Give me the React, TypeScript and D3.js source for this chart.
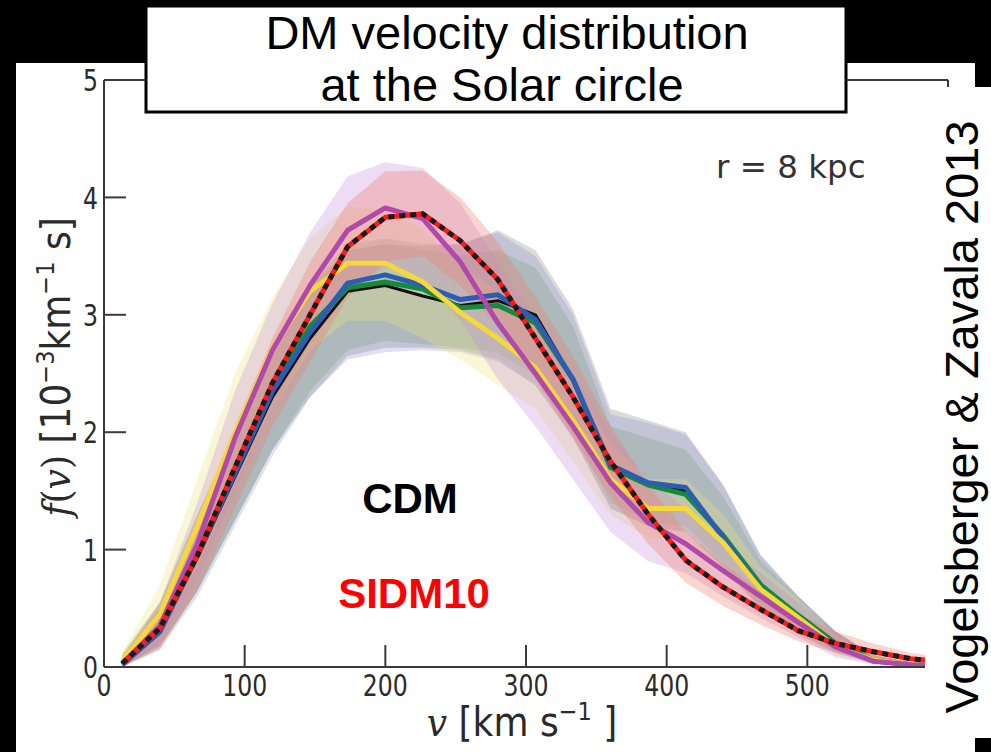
import React from "react";
import * as d3 from "d3";

// velocity bin centres [km/s]
const vBins = [13, 39.7, 66.4, 93.1, 119.8, 146.5, 173.2, 199.9, 226.6, 253.3, 280, 306.7, 333.4, 360.1, 386.8, 413.5, 440.2, 466.9, 493.6, 520.3, 547, 573.7, 600.4];

// f(v) lines, 10^-3 km^-1 s
const cdm = [0.02, 0.3, 0.93, 1.62, 2.3, 2.8, 3.2, 3.25, 3.16, 3.08, 3.12, 3.0, 2.45, 1.7, 1.55, 1.5, 1.12, 0.67, 0.4, 0.18, 0.05, 0.02, 0.01];
const green = [0.02, 0.31, 0.97, 1.68, 2.38, 2.9, 3.23, 3.28, 3.22, 3.06, 3.08, 2.93, 2.45, 1.7, 1.55, 1.47, 1.12, 0.7, 0.44, 0.2, 0.06, 0.02, 0.01];
const blue = [0.02, 0.3, 0.95, 1.65, 2.35, 2.85, 3.27, 3.34, 3.25, 3.13, 3.17, 2.96, 2.45, 1.72, 1.57, 1.53, 1.1, 0.66, 0.4, 0.18, 0.05, 0.02, 0.01];
const yellow = [0.05, 0.45, 1.2, 2.0, 2.72, 3.2, 3.44, 3.44, 3.28, 3.02, 2.8, 2.55, 2.1, 1.6, 1.35, 1.35, 1.06, 0.66, 0.42, 0.17, 0.06, 0.02, 0.02];
const purple = [0.03, 0.35, 1.05, 1.95, 2.7, 3.25, 3.72, 3.91, 3.82, 3.45, 2.93, 2.5, 2.05, 1.57, 1.23, 1.05, 0.82, 0.6, 0.38, 0.17, 0.05, 0.02, 0.01];
const sidm10 = [0.03, 0.33, 0.95, 1.7, 2.42, 3.0, 3.58, 3.83, 3.86, 3.63, 3.3, 2.8, 2.3, 1.75, 1.3, 0.91, 0.68, 0.49, 0.31, 0.2, 0.13, 0.07, 0.04];

// scatter bands (low / high)
const cdmLo = [0, 0.18, 0.65, 1.25, 1.85, 2.3, 2.65, 2.72, 2.72, 2.7, 2.62, 2.4, 1.95, 1.35, 1.2, 1.15, 0.85, 0.5, 0.28, 0.12, 0.03, 0.01, 0];
const cdmHi = [0.1, 0.55, 1.3, 2.0, 2.7, 3.25, 3.6, 3.65, 3.6, 3.6, 3.72, 3.55, 3.05, 2.2, 2.1, 2.0, 1.55, 0.95, 0.6, 0.3, 0.1, 0.04, 0.02];
const greenLo = [0, 0.17, 0.65, 1.25, 1.85, 2.35, 2.7, 2.78, 2.75, 2.72, 2.68, 2.48, 2.0, 1.4, 1.25, 1.2, 0.88, 0.52, 0.3, 0.13, 0.03, 0.01, 0];
const greenHi = [0.12, 0.55, 1.3, 2.0, 2.72, 3.25, 3.55, 3.6, 3.55, 3.5, 3.55, 3.4, 2.9, 2.05, 1.95, 1.85, 1.45, 0.9, 0.6, 0.3, 0.1, 0.04, 0.02];
const blueLo = [0, 0.15, 0.6, 1.2, 1.8, 2.3, 2.62, 2.68, 2.7, 2.68, 2.6, 2.4, 1.95, 1.35, 1.2, 1.15, 0.85, 0.5, 0.28, 0.12, 0.03, 0.01, 0];
const blueHi = [0.08, 0.5, 1.25, 1.95, 2.65, 3.2, 3.55, 3.6, 3.58, 3.6, 3.7, 3.5, 3.0, 2.15, 2.08, 1.98, 1.55, 0.95, 0.6, 0.3, 0.1, 0.04, 0.02];
const yellowLo = [0.01, 0.3, 0.85, 1.55, 2.2, 2.7, 2.95, 2.95, 2.8, 2.62, 2.4, 2.2, 1.75, 1.3, 1.1, 1.1, 0.82, 0.48, 0.28, 0.1, 0.03, 0.01, 0.01];
const yellowHi = [0.12, 0.7, 1.6, 2.5, 3.15, 3.65, 3.92, 3.9, 3.72, 3.42, 3.2, 2.92, 2.45, 1.9, 1.6, 1.6, 1.3, 0.85, 0.58, 0.26, 0.1, 0.04, 0.03];
const purpleLo = [0, 0.2, 0.75, 1.5, 2.2, 2.75, 3.2, 3.4, 3.3, 2.95, 2.45, 2.05, 1.6, 1.15, 0.9, 0.8, 0.6, 0.42, 0.25, 0.08, 0.02, 0.01, 0];
const purpleHi = [0.08, 0.55, 1.4, 2.35, 3.1, 3.7, 4.18, 4.3, 4.25, 3.95, 3.45, 2.95, 2.5, 2.0, 1.6, 1.35, 1.05, 0.8, 0.55, 0.3, 0.1, 0.04, 0.02];
const redLo = [0, 0.15, 0.65, 1.35, 2.05, 2.6, 3.15, 3.45, 3.5, 3.25, 2.9, 2.45, 1.95, 1.45, 1.05, 0.72, 0.52, 0.36, 0.22, 0.12, 0.07, 0.03, 0.02];
const redHi = [0.08, 0.5, 1.25, 2.05, 2.8, 3.45, 3.95, 4.22, 4.23, 4.0, 3.62, 3.15, 2.65, 2.05, 1.55, 1.15, 0.88, 0.65, 0.45, 0.3, 0.2, 0.12, 0.08];

const xTicks = [0, 100, 200, 300, 400, 500];
const yTicks = [0, 1, 2, 3, 4, 5];

const x = d3.scaleLinear().domain([0, 600]).range([104, 948]);
const y = d3.scaleLinear().domain([0, 5]).range([667, 80]);

const bands = [
  { lo: cdmLo, hi: cdmHi, fill: "#7d7d7d", op: 0.28 },
  { lo: greenLo, hi: greenHi, fill: "#5f9a4f", op: 0.22 },
  { lo: blueLo, hi: blueHi, fill: "#6f72c0", op: 0.22 },
  { lo: yellowLo, hi: yellowHi, fill: "#efe47a", op: 0.3 },
  { lo: purpleLo, hi: purpleHi, fill: "#c48ad6", op: 0.3 },
  { lo: redLo, hi: redHi, fill: "#f07a6a", op: 0.32 },
];

const lines = [
  { v: cdm, color: "#111", w: 3 },
  { v: green, color: "#168a3c", w: 5 },
  { v: blue, color: "#2b5db5", w: 5 },
  { v: yellow, color: "#f6d83a", w: 5 },
  { v: purple, color: "#b049ab", w: 5 },
  { v: sidm10, color: "#ff1a1a", w: 5 },
];

const line = (vals: number[]) =>
  d3.line<number>().x((_, i) => x(vBins[i])).y((d) => y(d))(vals) || "";
const area = (lo: number[], hi: number[]) =>
  d3
    .area<number>()
    .x((_, i) => x(vBins[i]))
    .y0((_, i) => y(lo[i]))
    .y1((_, i) => y(hi[i]))(lo) || "";

const axisCol = "#3a3a3a";
const tickFont = "DejaVu Sans, sans-serif";
const serif = "DejaVu Serif, serif";

const App = () => {
  return (
    <svg
      width={991}
      height={752}
      style={{ position: "absolute", left: 0, top: 0 }}
      fontFamily="Liberation Sans, Arial, sans-serif"
    >
      <defs>
        <clipPath id="plot">
          <rect x={104} y={80} width={844} height={587} />
        </clipPath>
      </defs>
      <rect width={991} height={752} fill="#000" />
      <polygon points="16,63 975,63 975,87 991,87 991,738 975,738 975,752 16,752" fill="#fff" />

      <g clipPath="url(#plot)">
        {bands.map((b, i) => (
          <path key={i} d={area(b.lo, b.hi)} fill={b.fill} fillOpacity={b.op} />
        ))}
        {lines.map((l, i) => (
          <path key={i} d={line(l.v)} fill="none" stroke={l.color} strokeWidth={l.w} strokeLinejoin="round" />
        ))}
        <path d={line(sidm10)} fill="none" stroke="#1a1a1a" strokeWidth={5} strokeDasharray="6 5" />
      </g>

      {/* frame */}
      <g stroke={axisCol} strokeWidth={2} fill="none">
        <line x1={104} y1={80} x2={104} y2={667} />
        <line x1={104} y1={667} x2={948} y2={667} />
        <line x1={104} y1={80} x2={948} y2={80} />
        <line x1={948} y1={80} x2={948} y2={667} />
        {yTicks.map((t) => (
          <line key={t} x1={104} x2={126} y1={y(t)} y2={y(t)} />
        ))}
        {xTicks.map((t) => (
          <line key={t} x1={x(t)} x2={x(t)} y1={667} y2={645} />
        ))}
      </g>
      <g fontFamily={tickFont} fontSize={31} fill="#2a2a2a">
        {yTicks.map((t) => (
          <text key={t} transform={`translate(98,${y(t)}) scale(0.76,1)`} dy="0.36em" textAnchor="end">
            {t}
          </text>
        ))}
        {xTicks.map((t) => (
          <text key={t} transform={`translate(${x(t)},696) scale(0.76,1)`} textAnchor="middle">
            {t}
          </text>
        ))}
      </g>

      {/* axis labels */}
      <text
        transform="translate(522,736) scale(0.9,1)"
        textAnchor="middle"
        fontFamily={tickFont}
        fontSize={40}
        fill="#2a2a2a"
      >
        <tspan fontFamily={serif} fontStyle="italic">v</tspan>
        <tspan> [km s</tspan>
        <tspan fontSize={25} dy={-16}>−1</tspan>
        <tspan dy={16}> ]</tspan>
      </text>
      <text
        transform="translate(70,367) rotate(-90) scale(0.9,1)"
        textAnchor="middle"
        fontFamily={tickFont}
        fontSize={40}
        fill="#2a2a2a"
      >
        <tspan fontFamily={serif} fontStyle="italic">f</tspan>
        <tspan fontFamily={serif}>(</tspan>
        <tspan fontFamily={serif} fontStyle="italic">v</tspan>
        <tspan fontFamily={serif}>)</tspan>
        <tspan> [10</tspan>
        <tspan fontSize={25} dy={-16}>−3</tspan>
        <tspan dy={16}>km</tspan>
        <tspan fontSize={25} dy={-16}>−1</tspan>
        <tspan dy={16}> s]</tspan>
      </text>

      <text x={716} y={178} fontFamily={tickFont} fontSize={32.5} fill="#333">
        r = 8 kpc
      </text>
      <text x={410} y={513} textAnchor="middle" fontWeight="bold" fontSize={42} fill="#000">
        CDM
      </text>
      <text x={414} y={608} textAnchor="middle" fontWeight="bold" fontSize={42} fill="#ff0000">
        SIDM10
      </text>

      {/* citation strip */}
      <rect x={925} y={87} width={66} height={651} fill="#fff" />
      <text transform="translate(978,417) rotate(-90)" textAnchor="middle" fontSize={47} fill="#000">
        Vogelsberger &amp; Zavala 2013
      </text>

      {/* title box */}
      <rect x={146} y={6} width={700} height={106} fill="#fff" stroke="#000" strokeWidth={3} />
      <g textAnchor="middle" fontSize={47} fill="#000">
        <text x={507} y={49}>DM velocity distribution</text>
        <text x={502} y={101}>at the Solar circle</text>
      </g>
    </svg>
  );
};

export default App;
